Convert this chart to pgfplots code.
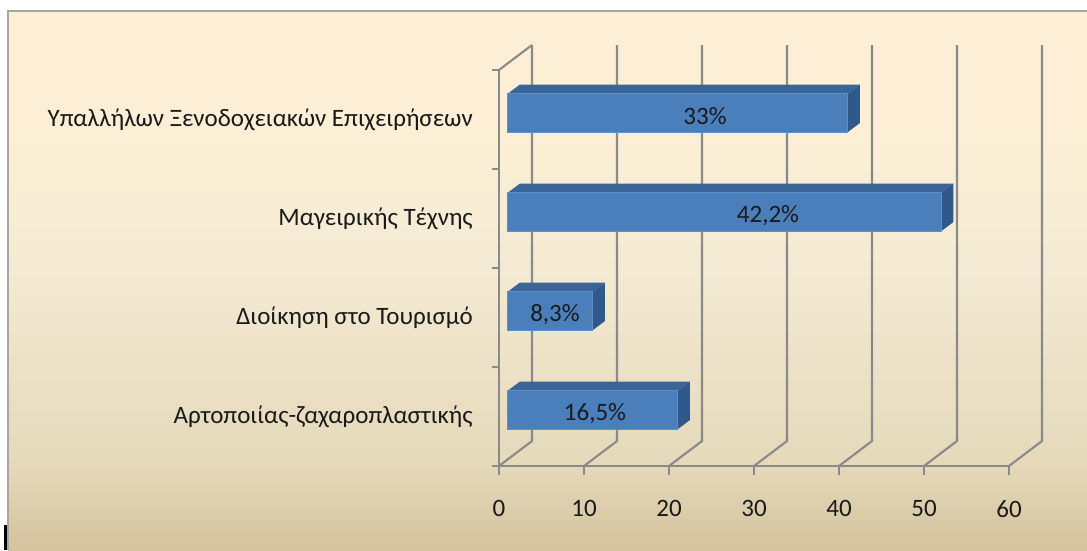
\documentclass[border=0pt]{standalone}
\usepackage{fontspec}
\setmainfont{Carlito}
\usepackage{pgfplots}
\usepackage{pgfplotstable}
\pgfplotsset{compat=1.18}
\usetikzlibrary{backgrounds}

\definecolor{barfront}{HTML}{4B7FBC}
\definecolor{baredge}{HTML}{5C8FCB}
\definecolor{bartop}{HTML}{3C6597}
\definecolor{barside}{HTML}{30588A}
\definecolor{gridgray}{HTML}{8A8A8A}
\definecolor{bordergray}{HTML}{A6A6A6}
\definecolor{bgA}{HTML}{FCEFD5}
\definecolor{bgB}{HTML}{F4EAD3}
\definecolor{bgC}{HTML}{E5D9BA}
\definecolor{bgD}{HTML}{D3C39E}
\definecolor{txt}{HTML}{1A1A1A}

\pgfdeclareverticalshading{chartbg}{100bp}{color(0bp)=(bgD); color(25bp)=(bgD);
  color(33bp)=(bgC); color(51bp)=(bgB); color(64bp)=(bgA); color(100bp)=(bgA)}

% c = category (0 bottom), v = count, lx = label position, lbl = percentage
\pgfplotstableread{
c v lx lbl
0 20 11.29 16,5
1 10 6.59 8,3
2 51 31.65 42,2
3 40 24.24 33
}\bardata

% 3D bar drawn at the right end of its front face
\pgfdeclareplotmark{cuboid}{%
  \pgfmathsetmacro\cubL{\barlen*3.4}%
  \pgfsetfillcolor{bartop}%
  \pgfpathmoveto{\pgfpoint{-\cubL pt}{7.7pt}}%
  \pgfpathlineto{\pgfpoint{0pt}{7.7pt}}%
  \pgfpathlineto{\pgfpoint{4.8pt}{11.3pt}}%
  \pgfpathlineto{\pgfpoint{-\cubL pt+4.8pt}{11.3pt}}%
  \pgfpathclose
  \pgfusepath{fill}%
  \pgfsetfillcolor{barside}%
  \pgfpathmoveto{\pgfpoint{0pt}{-7.7pt}}%
  \pgfpathlineto{\pgfpoint{4.8pt}{-4.1pt}}%
  \pgfpathlineto{\pgfpoint{4.8pt}{11.3pt}}%
  \pgfpathlineto{\pgfpoint{0pt}{7.7pt}}%
  \pgfpathclose
  \pgfusepath{fill}%
  \pgfsetfillcolor{barfront}%
  \pgfsetstrokecolor{baredge}%
  \pgfsetlinewidth{0.4pt}%
  \pgfpathrectangle{\pgfpoint{-\cubL pt}{-7.7pt}}{\pgfpoint{\cubL pt}{15.4pt}}%
  \pgfusepath{fill,stroke}%
}

\begin{document}
\begin{tikzpicture}
\begin{axis}[
  x=3.4pt, y=39.6pt,
  xmin=0, xmax=60, ymin=-0.5, ymax=3.5,
  clip=false,
  axis x line*=bottom, axis y line*=left,
  axis line style={draw=gridgray, line width=0.85pt, -},
  tick align=outside,
  xtick={0,10,...,60},
  ytick={-0.5,0.5,1.5,2.5,3.5}, yticklabels={},
  xtick style={draw=gridgray, line width=0.85pt, /pgfplots/major tick length=3.6pt},
  ytick style={draw=gridgray, line width=0.85pt, /pgfplots/major tick length=2.8pt},
  extra y ticks={0,1,2,3},
  extra y tick labels={Αρτοποιίας-ζαχαροπλαστικής, Διοίκηση στο Τουρισμό,
    Μαγειρικής Τέχνης, Υπαλλήλων Ξενοδοχειακών Επιχειρήσεων},
  extra y tick style={ytick style={draw=none}, yticklabel style={xshift=-2.7pt}},
  tick label style={font=\fontsize{10}{12}\selectfont, text=txt},
  xticklabel style={yshift=-6pt},
  /pgf/number format/assume math mode=true,
]
  % back wall, floor and left wall edges
  \pgfplotsinvokeforeach{0,10,...,60}{
    \draw[gridgray, line width=0.85pt] (axis cs:#1,-0.5) -- (axis cs:{#1+3.882},-0.2475)
      -- (axis cs:{#1+3.882},3.7525);
  }
  \draw[gridgray, line width=0.85pt] (axis cs:0,3.5) -- (axis cs:3.882,3.7525);

  \addplot[only marks, mark=cuboid,
    visualization depends on={\thisrow{v} \as \barlen}]
    table[x expr=\thisrow{v}+1.048, y expr=\thisrow{c}+0.068] {\bardata};

  \addplot[only marks, mark=none, point meta=explicit symbolic,
    nodes near coords={\pgfplotspointmeta\%},
    every node near coord/.append style={anchor=center, yshift=-1.4pt,
      font=\fontsize{10}{12}\selectfont, text=txt}]
    table[x=lx, y expr=\thisrow{c}+0.068, meta=lbl] {\bardata};

  \coordinate (pbl) at (axis cs:-58.706,-1.3485);
  \coordinate (ptr) at (axis cs:69.176,4.2071);
  \coordinate (bbl) at (axis cs:-57.765,-1.3485);
  \coordinate (btl) at (axis cs:-57.765,4.096);
  \coordinate (btr) at (axis cs:69.176,4.096);
  \coordinate (cb) at (axis cs:-58.235,-1.3485);
  \coordinate (ct) at (axis cs:-57.847,-1.096);
\end{axis}
\begin{scope}[on background layer]
  \fill[white] (pbl) rectangle (ptr);
  \shade[shading=chartbg] (bbl) rectangle (btr);
  \draw[bordergray, line width=0.5pt] (bbl) -- (btl) -- (btr);
  \fill[black] (cb) rectangle (ct);
\end{scope}
\pgfresetboundingbox
\useasboundingbox (pbl) rectangle (ptr);
\end{tikzpicture}
\end{document}
